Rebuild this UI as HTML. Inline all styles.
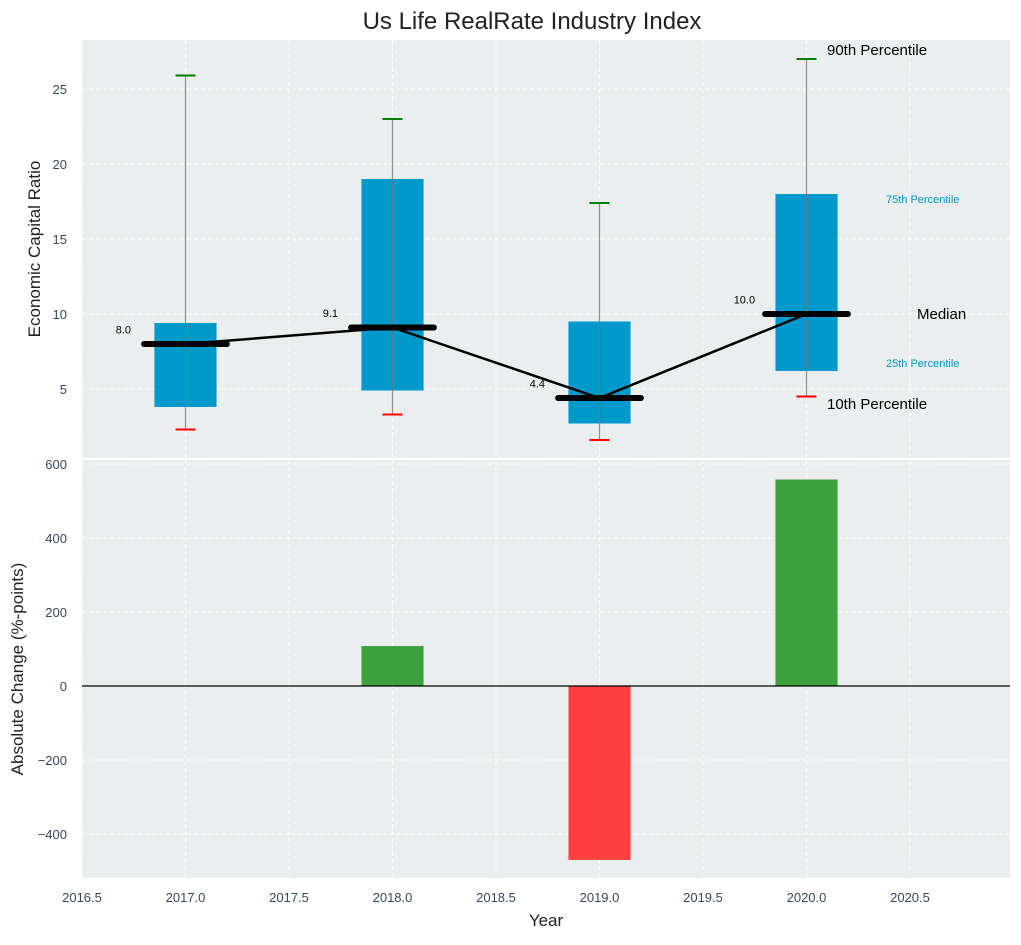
<!DOCTYPE html>
<html><head><meta charset="utf-8"><style>
body{margin:0;background:#fff;font-family:"Liberation Sans",sans-serif}
svg text{font-family:"Liberation Sans",sans-serif}
</style></head><body>
<svg id="c" width="1021" height="940"></svg>
<script>
const years=[2017,2018,2019,2020];
const p10=[2.3,3.3,1.6,4.5];
const q25=[3.8,4.9,2.7,6.2];
const med=[8.0,9.1,4.4,10.0];
const q75=[9.4,19.0,9.5,18.0];
const p90=[25.9,23.0,17.4,27.0];
const change=[0,108,-470,558];
const xTicks=[2016.5,2017,2017.5,2018,2018.5,2019,2019.5,2020,2020.5];
const yTopTicks=[5,10,15,20,25];
const yBotTicks=[-400,-200,0,200,400,600];

const NS="http://www.w3.org/2000/svg";
const svg=document.getElementById('c');
function el(t,a,p){const e=document.createElementNS(NS,t);for(const k in a)e.setAttribute(k,a[k]);(p||svg).appendChild(e);return e;}
const X=v=>82+(v-2016.5)*207;
const YT=v=>464-v*15;
const YB=v=>686-v*0.37;
const L=82,R=1010;
// backgrounds
let e=el('rect',{x:L,y:40,width:R-L,height:418,fill:'#eaeeee'});


e=el('rect',{x:L,y:460,width:R-L,height:418,fill:'#eaeeee'});


// grids
xTicks.forEach(t=>{
  el('line',{x1:X(t),x2:X(t),y1:40,y2:458,stroke:'#fff','stroke-dasharray':'4,3'});
  el('line',{x1:X(t),x2:X(t),y1:460,y2:878,stroke:'#fff','stroke-dasharray':'4,3'});
  e=el('text',{x:X(t),y:902,'text-anchor':'middle','font-size':13,fill:'#34495e'});e.textContent=t.toFixed(1);
  
  
});
yTopTicks.forEach(t=>{
  el('line',{x1:L,x2:R,y1:YT(t),y2:YT(t),stroke:'#fff','stroke-dasharray':'4,3'});
  e=el('text',{x:67,y:YT(t)+5,'text-anchor':'end','font-size':13,fill:'#34495e'});e.textContent=t;
  
  
});
yBotTicks.forEach(t=>{
  el('line',{x1:L,x2:R,y1:YB(t),y2:YB(t),stroke:'#fff','stroke-dasharray':'4,3'});
  e=el('text',{x:67,y:YB(t)+5,'text-anchor':'end','font-size':13,fill:'#34495e'});e.textContent=t<0?'\u2212'+(-t):t;
  
  
});
el('line',{x1:L,x2:R,y1:459,y2:459,stroke:'#fff','stroke-width':2});
// boxes
years.forEach((y,i)=>{
  const w=0.3*207;
  e=el('rect',{x:X(y)-w/2,y:YT(q75[i]),width:w,height:YT(q25[i])-YT(q75[i]),fill:'#0099cc'});
  
  
  e=el('line',{x1:X(y),x2:X(y),y1:YT(p90[i]),y2:YT(p10[i]),stroke:'#777','stroke-width':1.2,opacity:0.8});
  
  
  e=el('line',{x1:X(y)-10,x2:X(y)+10,y1:YT(p90[i]),y2:YT(p90[i]),stroke:'green','stroke-width':2});
  
  
  e=el('line',{x1:X(y)-10,x2:X(y)+10,y1:YT(p10[i]),y2:YT(p10[i]),stroke:'red','stroke-width':2});
  
  
});
e=el('polyline',{points:years.map((y,i)=>X(y)+','+YT(med[i])).join(' '),fill:'none',stroke:'#000','stroke-width':2.5});


years.forEach((y,i)=>{
  e=el('line',{x1:X(y-0.2),x2:X(y+0.2),y1:YT(med[i]),y2:YT(med[i]),stroke:'#000','stroke-width':6,'stroke-linecap':'round'});
  
  
  e=el('text',{x:X(y-0.3),y:YT(med[i]+0.7),'text-anchor':'middle','font-size':11,fill:'#000'});e.textContent=med[i].toFixed(1);
  
  
});
// annotations
const ann=[[827,55,'90th Percentile',15,'#000'],[886,203,'75th Percentile',11,'#0099cc'],[917,319,'Median',15,'#000'],[886,367,'25th Percentile',11,'#0099cc'],[827,409,'10th Percentile',15,'#000']];
ann.forEach(a=>{e=el('text',{x:a[0],y:a[1],'font-size':a[3],fill:a[4]});e.textContent=a[2];
  
  });
// bars
years.forEach((y,i)=>{
  if(change[i]===0)return;
  const w=0.3*207,v=change[i];
  e=el('rect',{x:X(y)-w/2,y:Math.min(YB(v),YB(0)),width:w,height:Math.abs(YB(v)-YB(0)),fill:v>0?'#2e9a2e':'#ff3030',opacity:0.92});
  
  
});
el('line',{x1:L,x2:R,y1:YB(0),y2:YB(0),stroke:'#000','stroke-width':1.2});
// titles
e=el('text',{x:532,y:29,'text-anchor':'middle','font-size':24,fill:'#222'});e.textContent='Us Life RealRate Industry Index';


e=el('text',{x:546,y:926,'text-anchor':'middle','font-size':17,fill:'#222'});e.textContent='Year';


e=el('text',{x:0,y:0,'text-anchor':'middle','font-size':17,fill:'#222',transform:'translate(40,249) rotate(-90)'});e.textContent='Economic Capital Ratio';


e=el('text',{x:0,y:0,'text-anchor':'middle','font-size':17,fill:'#222',transform:'translate(23,669) rotate(-90)'});e.textContent='Absolute Change (%-points)';


</script>
</body></html>
